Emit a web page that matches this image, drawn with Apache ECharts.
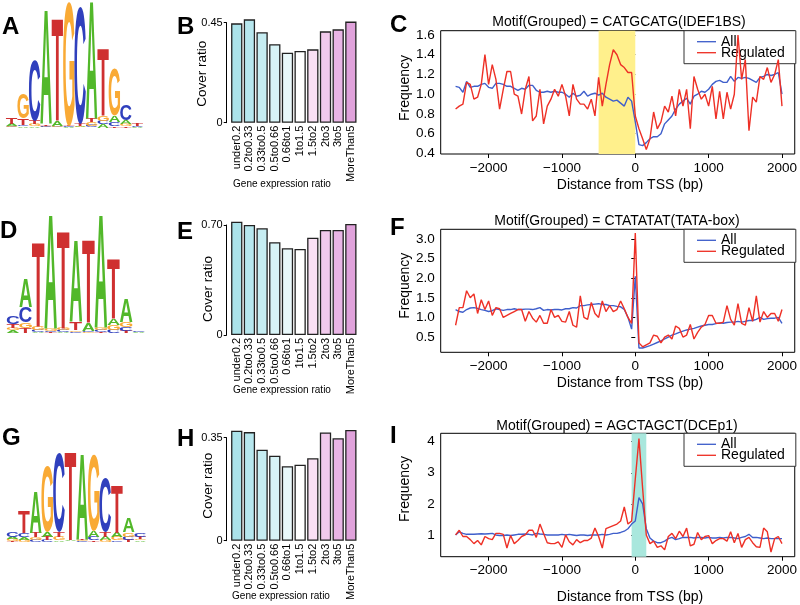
<!DOCTYPE html>
<html><head><meta charset="utf-8">
<script src="https://cdn.jsdelivr.net/npm/echarts@6/dist/echarts.min.js"></script>
<style>html,body{margin:0;padding:0;background:#fff}#c{width:800px;height:605px}</style>
</head><body><div id="c"></div>
<script>
// ---------------- DATA ----------------
const categories = ['under0.2','0.2to0.33','0.33to0.5','0.5to0.66','0.66to1','1to1.5','1.5to2','2to3','3to5','MoreThan5'];
const coverB = [0.447,0.465,0.407,0.353,0.315,0.323,0.330,0.411,0.420,0.455];
const coverE = [0.721,0.700,0.679,0.590,0.552,0.547,0.619,0.668,0.668,0.706];
const coverH = [0.374,0.369,0.309,0.289,0.253,0.258,0.280,0.368,0.348,0.376];
const coverTicksB = [0, 0.45];
const coverTicksE = [0, 0.70];
const coverTicksH = [0, 0.35];

const tss = [-2450,-2400,-2350,-2300,-2250,-2200,-2150,-2100,-2050,-2000,
 -1950,-1900,-1850,-1800,-1750,-1700,-1650,-1600,-1550,-1500,
 -1450,-1400,-1350,-1300,-1250,-1200,-1150,-1100,-1050,-1000,
 -950,-900,-850,-800,-750,-700,-650,-600,-550,-500,
 -450,-400,-350,-300,-250,-200,-150,-100,-50,0,
 50,100,150,200,250,300,350,400,450,500,
 550,600,650,700,750,800,850,900,950,1000,
 1050,1100,1150,1200,1250,1300,1350,1400,1450,1500,
 1550,1600,1650,1700,1750,1800,1850,1900,1950,2000];
const xTicks = [-2000,-1000,0,1000,2000];

const allC = [1.08,1.07,1.02,1.13,1.07,1.08,1.08,1.10,1.11,1.07,
 1.06,1.11,1.11,1.10,1.08,1.08,1.06,1.04,1.06,1.05,
 1.09,1.09,1.04,1.02,1.02,1.03,1.02,1.03,1.02,1.02,
 1.00,0.97,1.01,0.98,0.99,1.03,0.98,1.00,1.01,0.99,
 1.01,0.97,0.95,0.93,0.94,0.91,0.88,0.97,0.93,0.72,
 0.49,0.48,0.51,0.55,0.57,0.57,0.60,0.70,0.74,0.78,
 0.85,0.90,0.93,0.96,0.90,0.98,1.00,1.03,1.02,1.05,
 1.10,1.13,1.14,1.12,1.12,1.18,1.13,1.17,1.16,1.17,
 1.16,1.14,1.12,1.17,1.18,1.20,1.19,1.20,1.22,1.00];
const regC = [0.85,0.88,0.90,1.12,1.10,0.95,0.97,1.10,1.40,1.10,
 1.30,1.15,0.85,1.05,1.23,1.23,1.00,0.98,0.80,1.05,
 1.18,0.73,0.78,1.05,0.70,0.88,0.95,1.05,0.98,1.10,
 0.98,0.78,1.10,0.95,0.90,0.90,0.85,0.95,0.78,1.17,
 0.88,1.10,1.30,1.45,1.40,1.30,1.27,1.22,1.22,0.78,
 0.65,0.55,0.44,0.55,0.82,0.65,0.72,0.88,0.82,0.98,
 0.78,1.05,0.88,1.05,0.65,1.18,1.05,0.95,1.00,0.88,
 1.08,0.75,1.03,0.75,1.02,0.85,1.00,1.60,1.15,1.35,
 0.63,0.97,0.92,1.18,1.15,1.27,1.12,1.20,1.35,0.88];
const ticksC = [0.4,0.6,0.8,1.0,1.2,1.4,1.6];

const allF = [1.20,1.15,1.13,1.20,1.24,1.25,1.23,1.20,1.18,1.15,
 1.17,1.22,1.20,1.18,1.20,1.20,1.22,1.20,1.20,1.21,
 1.21,1.20,1.22,1.25,1.18,1.20,1.19,1.20,1.20,1.19,
 1.22,1.22,1.25,1.24,1.30,1.30,1.32,1.33,1.34,1.35,
 1.33,1.33,1.30,1.30,1.28,1.27,1.20,1.00,0.70,2.05,
 0.22,0.22,0.25,0.28,0.32,0.36,0.40,0.45,0.50,0.55,
 0.58,0.62,0.65,0.68,0.70,0.72,0.75,0.78,0.80,0.82,
 0.82,0.84,0.86,0.85,0.87,0.88,0.88,0.90,0.88,0.90,
 0.92,0.92,0.95,1.00,0.95,0.97,0.98,0.98,1.00,0.85];
const regF = [0.80,1.25,1.25,1.68,1.50,1.60,1.10,1.45,1.20,1.42,
 1.05,1.25,1.22,1.00,1.05,1.10,1.15,1.20,1.20,0.90,
 1.15,0.98,0.88,1.05,0.85,0.85,1.20,1.00,1.05,0.90,
 0.88,1.15,0.80,0.75,1.55,1.00,0.95,1.38,1.10,1.00,
 1.42,1.15,1.30,1.15,1.20,1.42,1.22,1.00,0.85,3.15,
 0.35,0.25,0.30,0.35,0.55,0.52,0.35,0.50,0.55,0.45,
 0.78,0.72,0.50,0.55,0.82,0.45,0.62,0.75,0.82,1.05,
 1.05,0.85,0.85,0.88,1.30,0.95,0.80,1.35,0.85,0.80,
 1.25,0.90,1.55,0.88,1.15,1.00,1.10,1.10,0.90,1.20];
const ticksF = [0.5,1.0,1.5,2.0,2.5,3.0];

const allI = [1.00,1.10,1.05,1.02,1.02,1.02,1.03,1.04,1.03,1.04,
 1.05,1.00,0.98,0.98,1.00,0.98,1.00,1.02,1.02,1.03,
 1.02,1.00,1.05,1.03,1.02,1.00,1.00,1.00,1.00,1.02,
 1.00,1.02,1.00,0.98,1.00,1.00,0.98,1.00,1.00,1.00,
 1.02,1.00,1.02,1.05,1.05,1.08,1.12,1.20,1.35,1.45,
 2.20,2.00,1.20,0.90,0.80,0.75,0.75,0.80,0.88,0.92,
 0.85,0.88,0.92,0.92,0.92,0.90,0.92,0.92,0.90,0.92,
 0.90,0.90,0.92,0.90,0.92,0.92,0.90,0.88,0.92,0.95,
 1.02,0.92,0.92,0.90,0.88,0.90,0.88,0.88,0.88,0.88];
const regI = [1.00,1.15,0.95,0.95,0.85,0.72,0.82,0.68,0.95,0.88,
 0.85,1.05,1.05,1.02,0.58,0.98,0.72,0.82,0.95,1.00,
 1.15,1.15,0.92,1.35,1.05,0.75,0.72,0.72,0.78,0.60,
 1.00,0.78,0.68,0.85,0.75,0.82,0.82,0.90,1.22,0.95,
 0.58,1.20,1.25,1.30,1.35,1.45,1.90,1.35,1.45,2.80,
 4.10,2.50,1.00,0.72,0.80,0.60,0.65,0.52,0.95,1.05,
 0.88,1.12,0.95,1.22,0.65,0.70,1.08,0.85,0.95,0.98,
 0.72,0.82,0.88,0.88,0.80,1.10,0.75,1.05,0.60,0.85,
 0.92,0.75,0.62,0.60,1.22,1.10,0.45,0.88,0.95,0.72];
const ticksI = [1,2,3,4];

// sequence logos: per column [A, C, G, T] heights in bits
const logoLetters = ['A','C','G','T'];
const logoA = [[.03,.01,.02,.11],[.02,.02,.39,.10],[.02,.95,.03,.05],[1.81,.02,.01,.02],
 [.08,.01,.01,1.62],[.01,.01,1.95,.01],[.02,1.84,.01,.03],[1.87,.03,.05,.05],
 [.05,.05,.08,1.07],[.10,.06,.74,.02],[.06,.24,.03,.02],[.01,.02,0,.04]];
const logoD = [[.04,.12,.04,.06],[.44,.24,.09,.08],[.01,.03,.05,1.33],[1.80,.02,.03,.01],
 [.01,.03,.04,1.53],[1.29,.02,.02,.13],[.13,.02,.01,1.30],[1.77,.03,.04,.02],
 [.10,.05,.08,.93],[.36,.07,.08,.03],[.01,.02,0,0]];
const logoG = [[.04,.08,.03,.01],[.04,.06,.03,.34],[.65,.03,.04,.07],[.07,.03,1.03,.05],
 [.02,1.24,.06,.07],[.01,.005,.005,1.40],[1.34,.01,.01,.01],[.09,.06,1.21,.02],
 [.05,.85,.03,.07],[.07,.02,.05,.76],[.23,.05,.07,.03],[.02,.07,.02,.04]];

// ---------------- STYLE ----------------
const FONT = '"Liberation Sans", Arial, Helvetica, sans-serif';
const barColors = ['#abe3ea','#b7e7ee','#c6edf2','#d7f3f6','#e9f8fa','#ffffff','#f9e0f4','#f1c9ec','#e9b5e5','#e0a2db'];
const letterColors = {A:'#52b82a', C:'#3040bd', G:'#f9aa35', T:'#cf3030'};
const BLUE = '#3f5fcb', RED = '#ee3026';

const LOGO_FONT = 'bold 100px "Liberation Sans"';
const mctx = document.createElement('canvas').getContext('2d');
mctx.font = LOGO_FONT; mctx.textBaseline = 'middle'; mctx.textAlign = 'left';
const glyph = {};
logoLetters.forEach(L => { const m = mctx.measureText(L);
  glyph[L] = {l:m.actualBoundingBoxLeft, r:m.actualBoundingBoxRight, a:m.actualBoundingBoxAscent, d:m.actualBoundingBoxDescent}; });

function logoData(cols){
  const out = [];
  cols.forEach((c,i) => {
    const idx = [0,1,2,3].sort((a,b) => c[a]-c[b]);
    let y = 0;
    idx.forEach(k => { if (c[k] > 0) { out.push([i+1, y, y+c[k], k]); y += c[k]; } });
  });
  return out;
}
function renderLetter(params, api){
  const col = api.value(0), y0 = api.value(1), y1 = api.value(2), k = api.value(3);
  const p0 = api.coord([col-0.5, y0]), p1 = api.coord([col+0.5, y1]);
  const w = p1[0]-p0[0], h = p0[1]-p1[1];
  if (h < 0.2) return null;
  const L = logoLetters[k], g = glyph[L];
  const sx = w/(g.l+g.r), sy = h/(g.a+g.d);
  return {type:'text', x:p0[0]+sx*g.l, y:p1[1]+sy*g.a, scaleX:sx, scaleY:sy,
    style:{text:L, x:0, y:0, font:LOGO_FONT, fill:letterColors[L], textAlign:'left', textVerticalAlign:'middle'}};
}

const grids = [
  {left:230.4, top:22.7, width:126.8, height:100},
  {left:230.4, top:225, width:126.8, height:110},
  {left:230.4, top:437.7, width:126.8, height:103},
  {left:440.7, top:30.7, width:355.3, height:123.3, show:true, borderColor:'#000', borderWidth:1},
  {left:440.7, top:229.3, width:355.3, height:123, show:true, borderColor:'#000', borderWidth:1},
  {left:440.7, top:433.3, width:355.3, height:123.4, show:true, borderColor:'#000', borderWidth:1},
  {left:6, top:0.5, width:137, height:127},
  {left:6.7, top:206, width:138.3, height:127},
  {left:6.7, top:414.7, width:139.3, height:127}
];

const xAxes = [], yAxes = [], series = [];
[[coverB,coverTicksB],[coverE,coverTicksE],[coverH,coverTicksH]].forEach(([vals,ticks],i) => {
  xAxes.push({gridIndex:i, type:'category', data:categories, axisLine:{show:false}, axisTick:{show:false},
    axisLabel:{rotate:90, interval:0, fontSize:11, fontFamily:FONT, color:'#000', margin:3}});
  yAxes.push({gridIndex:i, type:'value', min:ticks[0], max:ticks[1], interval:ticks[1], offset:3.7,
    axisLine:{show:true, lineStyle:{color:'#000', width:1}}, axisTick:{show:true, length:3, lineStyle:{color:'#000'}},
    axisLabel:{fontSize:11, fontFamily:FONT, color:'#000', margin:4, formatter:v => v === 0 ? '0' : v.toFixed(2)},
    splitLine:{show:false}});
  series.push({type:'bar', xAxisIndex:i, yAxisIndex:i, barWidth:11.3, clip:false, silent:true,
    itemStyle:{borderColor:'#222', borderWidth:1.3},
    data: vals.map((v,j) => ({value:v, itemStyle:{color:barColors[j]}}))});
});

const lineSets = [
  {all:allC, reg:regC, ticks:ticksC, min:0.395, max:1.643, fmt:v=>v.toFixed(1), area:[-500,0], areaColor:'#fff08c'},
  {all:allF, reg:regF, ticks:ticksF, min:0.11, max:3.247, fmt:v=>v.toFixed(1)},
  {all:allI, reg:regI, ticks:ticksI, min:0.30, max:4.27, fmt:v=>String(v), area:[-50,150], areaColor:'#a9e7dd'}
];
lineSets.forEach((s,j) => {
  const i = j+3;
  xAxes.push({gridIndex:i, type:'value', min:-2653, max:2174, axisLine:{show:false},
    axisTick:{show:true, length:4, customValues:xTicks, lineStyle:{color:'#000'}},
    axisLabel:{customValues:xTicks, fontSize:13.5, fontFamily:FONT, color:'#000', margin:7,
      formatter:v => String(v).replace('-','\u2212')}, splitLine:{show:false}});
  yAxes.push({gridIndex:i, type:'value', min:s.min, max:s.max, axisLine:{show:false},
    axisTick:{show:true, length:4, customValues:s.ticks, lineStyle:{color:'#000'}},
    axisLabel:{customValues:s.ticks, fontSize:13.5, fontFamily:FONT, color:'#000', margin:6, formatter:s.fmt},
    splitLine:{show:false}});
  const allSeries = {type:'line', name:'All', xAxisIndex:i, yAxisIndex:i, symbol:'none', z:3,
    lineStyle:{color:BLUE, width:1.4}, itemStyle:{color:BLUE}, data: tss.map((x,k)=>[x, s.all[k]])};
  if (s.area) allSeries.markArea = {silent:true, itemStyle:{color:s.areaColor}, data:[[{xAxis:s.area[0]},{xAxis:s.area[1]}]]};
  series.push(allSeries);
  series.push({type:'line', name:'Regulated', xAxisIndex:i, yAxisIndex:i, symbol:'none', z:4,
    lineStyle:{color:RED, width:1.4}, itemStyle:{color:RED}, data: tss.map((x,k)=>[x, s.reg[k]])});
});

[logoA, logoD, logoG].forEach((cols,j) => {
  const i = j+6;
  xAxes.push({gridIndex:i, type:'value', min:0.5, max:cols.length+0.5, show:false});
  yAxes.push({gridIndex:i, type:'value', min:0, max:2, show:false});
  series.push({type:'custom', xAxisIndex:i, yAxisIndex:i, silent:true, renderItem:renderLetter,
    encode:{x:0, y:[1,2]}, data:logoData(cols)});
});

const LINE_ICON = 'path://M0,0L20,0L20,1.4L0,1.4Z';
const legendTops = [30.7, 229.3, 433.3];
const legends = legendTops.map(t => ({left:684, top:t, orient:'vertical',
  data:[{name:'All', icon:LINE_ICON},{name:'Regulated', icon:LINE_ICON}],
  itemWidth:19, itemHeight:10, itemGap:-3, symbolKeepAspect:true, padding:[4,11,4,13],
  borderColor:'#333', borderWidth:1, borderRadius:0,
  backgroundColor:'#fff', selectedMode:false,
  textStyle:{fontSize:14, fontFamily:FONT, color:'#000'}}));

function txt(text, x, y, font, opts){
  return Object.assign({type:'text', x, y, silent:true,
    style:{text, font, fill:'#000', textAlign:'center', textVerticalAlign:'middle'}}, opts||{});
}
const PF = 'bold 24px "Liberation Sans"';
function panel(L, x, y){
  return {type:'text', x, y, silent:true, style:{text:L, font:PF, fill:'#000', textAlign:'left', textVerticalAlign:'middle'}};
}
const graphics = [
  panel('A', 2, 27.5), panel('B', 177, 27.5), panel('C', 390, 25),
  panel('D', 0, 231), panel('E', 177, 232), panel('F', 390, 228),
  panel('G', 2, 438), panel('H', 177, 439), panel('I', 390, 436)
];
const CR = '13.5px ' + FONT, GE = '10px ' + FONT, LF = '14px ' + FONT;
[[202,73.7],[208,289],[208,485.8]].forEach(([x,y]) => graphics.push(txt('Cover ratio', x, y, CR, {rotation:Math.PI/2})));
[[282,184],[282,390.7],[281,596.7]].forEach(([x,y]) => graphics.push(txt('Gene expression ratio', x, y, GE)));
[[405,88],[405,285.7],[405,489]].forEach(([x,y]) => graphics.push(txt('Frequency', x, y, LF, {rotation:Math.PI/2})));
[[630,185.5],[630,383],[630,597]].forEach(([x,y]) => graphics.push(txt('Distance from TSS (bp)', x, y, LF)));
graphics.push(txt('Motif(Grouped) = CATGCATG(IDEF1BS)', 619, 22.5, LF));
graphics.push(txt('Motif(Grouped) = CTATATAT(TATA-box)', 617, 221, LF));
graphics.push(txt('Motif(Grouped) = AGCTAGCT(DCEp1)', 617, 426, LF));

const chart = echarts.init(document.getElementById('c'), null, {renderer:'canvas', width:800, height:605});
chart.setOption({
  animation:false,
  backgroundColor:'#fff',
  textStyle:{fontFamily:FONT},
  grid:grids, xAxis:xAxes, yAxis:yAxes, series,
  legend:legends,
  graphic:{elements:graphics}
});
</script></body></html>
